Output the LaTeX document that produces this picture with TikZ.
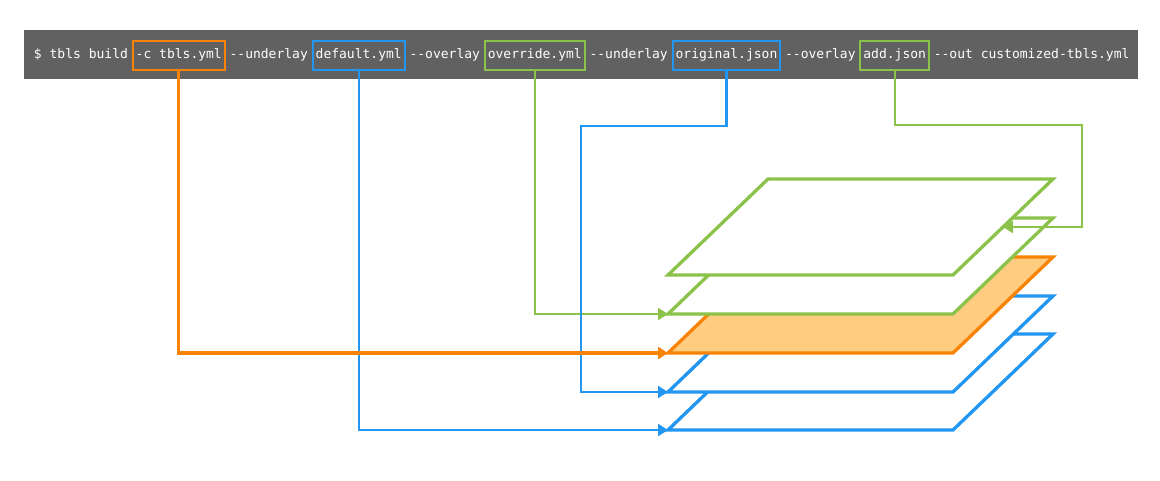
\documentclass[tikz,border=0pt]{standalone}
\usepackage{fontspec}
\setmonofont{DejaVu Sans Mono}
\usepackage{xcolor}
\usepackage{tikz}
\usetikzlibrary{positioning,arrows.meta}
\definecolor{tblorange}{HTML}{F88306}
\definecolor{tblblue}{HTML}{2196F3}
\definecolor{tblgreen}{HTML}{8BC34A}
\definecolor{tblfill}{HTML}{FFCC80}
\definecolor{tblbar}{HTML}{616161}

\begin{document}
\begin{tikzpicture}[
    x = 1pt,
    y = -1pt,
    every node/.style = {font=\fontsize{13pt}{15pt}\selectfont\ttfamily, text=white,
                         text height=9.5pt, text depth=3pt},
    cmdtext/.style    = {inner sep=0pt, outer sep=0pt},
    optbox/.style     = {draw=#1, line width=2pt, inner xsep=3pt, inner ysep=8.25pt, outer sep=0pt},
    layer/.style      = {line width=3.3pt, line join=miter},
    link/.style       = {draw=#1, line width=2.4pt, -{Triangle[length=10pt,width=12pt]}},
    node distance     = 4.8pt
  ]
\useasboundingbox (0,0) rectangle (1160,480);
\fill[tblbar] (24,30) rectangle (1138,79);

\node[cmdtext, anchor=west] (prompt) at (34,55.5) {\$ tbls build};
\node[optbox=tblorange, right=of prompt] (tbls) {-c tbls.yml};
\node[cmdtext, right=of tbls] (ul1) {-{}-underlay};
\node[optbox=tblblue, right=of ul1] (default) {default.yml};
\node[cmdtext, right=of default] (ol1) {-{}-overlay};
\node[optbox=tblgreen, right=of ol1] (override) {override.yml};
\node[cmdtext, right=of override] (ul2) {-{}-underlay};
\node[optbox=tblblue, right=of ul2] (original) {original.json};
\node[cmdtext, right=of original] (ol2) {-{}-overlay};
\node[optbox=tblgreen, right=of ol2] (add) {add.json};
\node[cmdtext, right=of add] (out) {-{}-out customized-tbls.yml};

\foreach \name/\yb/\col/\fil in {base/430/tblblue/white, orig/392/tblblue/white,
                                 conf/353/tblorange/tblfill, over/314/tblgreen/white,
                                 added/275/tblgreen/white}{
  \filldraw[layer, draw=\col, fill=\fil] (668,\yb) -- ++(285,0) -- ++(100,-96) -- ++(-285,0) -- cycle;
  \coordinate (\name) at (668,\yb);
  \coordinate (\name-edge) at (1003,{\yb-48});
}
\coordinate (origbend) at (581,126);
\coordinate (addbend) at (1082,125);

\draw[link=tblgreen, line width=2.2pt] (override.south) |- (over);
\draw[link=tblgreen, line width=2.2pt] (add.south) |- (addbend) |- (added-edge);
\draw[link=tblblue] (default.south) |- (base);
\draw[link=tblblue] (original.south) |- (origbend) |- (orig);
\draw[link=tblorange, line width=3.3pt] (tbls.south) |- (conf);
\end{tikzpicture}
\end{document}
